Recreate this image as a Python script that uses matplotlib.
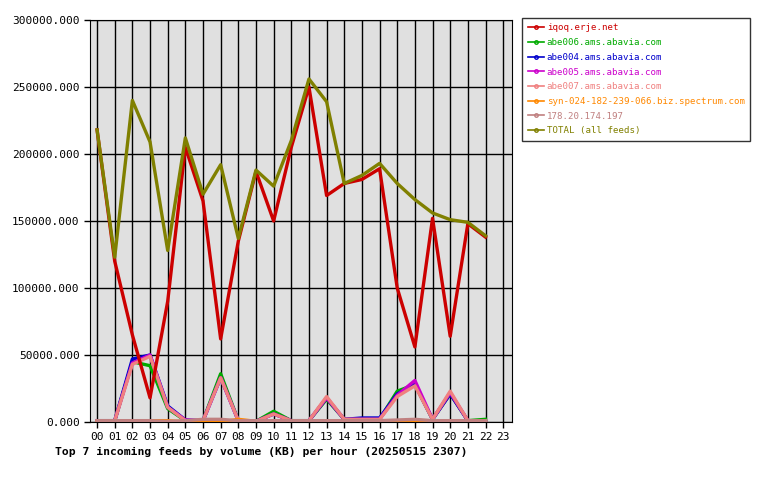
import matplotlib
matplotlib.use("Agg")
import matplotlib.pyplot as plt
from matplotlib.lines import Line2D

hours = list(range(23))
hour_labels = [f"{h:02d}" for h in range(24)]

feeds = ["iqoq.erje.net", "abe006.ams.abavia.com", "abe004.ams.abavia.com",
         "abe005.ams.abavia.com", "abe007.ams.abavia.com",
         "syn-024-182-239-066.biz.spectrum.com", "178.20.174.197",
         "TOTAL (all feeds)"]
colors = ["#cc0000", "#00aa00", "#0000cc", "#cc00cc", "#f08080",
          "#ff8800", "#c08080", "#808000"]

iqoq = [218000, 120000, 65000, 18000, 90000, 205000, 165000, 62000, 135000,
        187000, 150000, 205000, 250000, 169000, 178000, 181000, 189000,
        100000, 56000, 152000, 64000, 148000, 138000]
abe006 = [0, 1000, 45000, 42000, 10000, 1000, 1000, 36000, 1000, 500, 8000,
          1000, 1000, 17000, 2000, 2000, 2000, 23000, 28000, 2000, 21000,
          1000, 2000]
abe004 = [1000, 1000, 47000, 50000, 12000, 1500, 1000, 33000, 1000, 500,
          6000, 1000, 1000, 18000, 2000, 3000, 3000, 21000, 28000, 2000,
          21000, 1000, 0]
abe005 = [1000, 1000, 44000, 50000, 11000, 1500, 1000, 33000, 1000, 500,
          6000, 1000, 1000, 18000, 2000, 2000, 2000, 20000, 31000, 2000,
          22000, 1000, 0]
abe007 = [1000, 1000, 43000, 49000, 11000, 1000, 1000, 33000, 1000, 500,
          6000, 1000, 1000, 19000, 2000, 2000, 2000, 19000, 27000, 2000,
          23000, 1000, 0]
spectrum = [0, 0, 1000, 1000, 1000, 0, 1000, 0, 2000, 500, 0, 1000, 500, 0,
            0, 0, 0, 0, 0, 0, 0, 0, 0]
ip178 = [1000, 1000, 1000, 1000, 500, 1000, 2000, 2000, 1000, 1000, 1000,
         1000, 1000, 1000, 1000, 1000, 1000, 1500, 2000, 1000, 1000, 1000,
         1000]
total = [218000, 123000, 240000, 209000, 128000, 212000, 170000, 192000,
         137000, 188000, 176000, 210000, 256000, 239000, 178000, 184000,
         193000, 178000, 166000, 156000, 151000, 149000, 139000]

series = [iqoq, abe006, abe004, abe005, abe007, spectrum, ip178, total]

plt.rcParams["font.family"] = ["DejaVu Sans Mono"]
plt.rcParams["font.size"] = 8

fig = plt.figure(figsize=(7.8, 4.8), dpi=100)
ax = fig.add_axes([90 / 780, 58 / 480, 422 / 780, 402 / 480])
ax.set_facecolor("#e0e0e0")

# small feeds first, then iqoq and total on top
order = [1, 2, 3, 4, 5, 6, 0, 7]
for i in order:
    ax.plot(hours, series[i], color=colors[i], linewidth=2.4, zorder=3)

ax.set_xlim(-0.4, 23.5)
ax.set_ylim(0, 300000)
ax.set_xticks(range(24))
ax.set_xticklabels(hour_labels)
ax.set_yticks(range(0, 300001, 50000))
ax.set_yticklabels([f"{v}.000" for v in range(0, 300001, 50000)])
ax.grid(True, color="black", linewidth=1)
ax.set_axisbelow(True)
ax.tick_params(length=4, width=1)

fig.text(55 / 780, 1 - 452 / 480,
         "Top 7 incoming feeds by volume (KB) per hour (20250515 2307)",
         fontsize=8.2, fontweight="bold", va="center")

handles = [Line2D([0], [0], color=c, linewidth=1.2, marker="o", markersize=2.5,
                  markerfacecolor="none", markevery=[1]) for c in colors]
leg = fig.legend(handles, feeds, loc="upper left",
                 bbox_to_anchor=(522 / 780, 1 - 18 / 480), frameon=True,
                 fancybox=False, edgecolor="black", handlelength=1.8,
                 handletextpad=0.3, labelspacing=0.62, borderpad=0.6,
                 borderaxespad=0, fontsize=6.6)
leg.get_frame().set_linewidth(1)
for t, c in zip(leg.get_texts(), colors):
    t.set_color(c)

fig.savefig("out.png", dpi=100)
